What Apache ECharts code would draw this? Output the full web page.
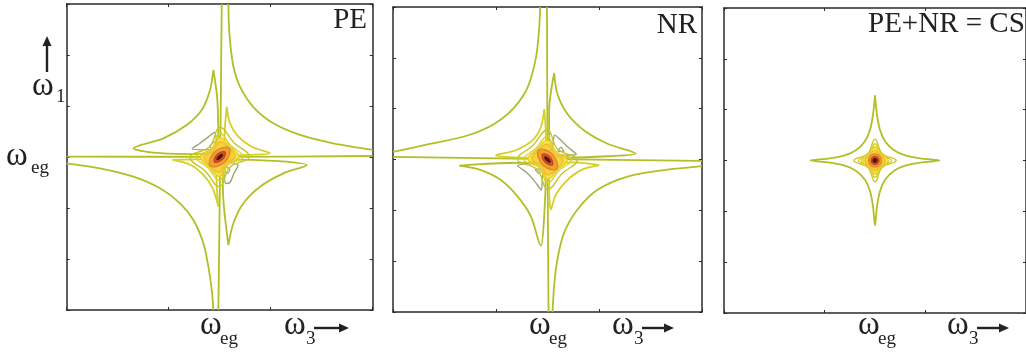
<!DOCTYPE html>
<html>
<head>
<meta charset="utf-8">
<script src="https://cdn.jsdelivr.net/npm/echarts@6/dist/echarts.min.js"></script>
<style>
  html, body { margin: 0; padding: 0; background: #fff; }
  #chart { width: 1026px; height: 354px; }
</style>
</head>
<body>
<div id="chart"></div>
<script>
// axis ranges (arbitrary frequency units, w_eg at 150)
const axisMax = 300;
const xTickStep = 100;
const yTickStep = 50;

// ---- PE panel contours ----
const pe_hLine = [[0, 150.3], [150, 150.2], [300, 151]];
const pe_vLine = [[152, 300], [150.5, 150], [148.7, 0]];
const pe_hypTR = [[158.5, 300], [159.5, 271], [163.4, 239], [169.9, 219], [183, 199], [202.6, 183], [228.8, 171.6], [261.4, 163.4], [300, 157]];
const pe_hypBL = [[0, 143.8], [32.7, 138.9], [65.4, 130.7], [91.5, 119.3], [111.1, 104.6], [124.2, 88.2], [134, 65.4], [138.9, 42.5], [142.2, 19.6], [143.8, 0]];
const pe_lobeTL = [[143.8, 235.3], [140.5, 215.7], [132.4, 196.1], [117.6, 181.4], [94.8, 168.3], [65.4, 158.5], [85, 154.2], [117.6, 152.9], [143.8, 152.9], [148.7, 160.1], [147.7, 205.9], [143.8, 235.3]];
const pe_lobeBR = [[158.5, 63.7], [163.4, 85], [173.2, 104.6], [189.5, 120.9], [212.4, 134], [235.3, 142.2], [215.7, 145.4], [183, 147.1], [156.9, 147.7], [152.9, 143.8], [153.6, 107.8], [158.5, 63.7]];
const pe_innerTR = [[156.9, 199.3], [160.1, 183], [168.3, 169.9], [181.4, 160.1], [199.3, 153.6], [176.5, 152], [156.9, 151], [154.2, 153.6], [155.2, 179.7], [156.9, 199.3]];
const pe_innerBL = [[103.6, 147.1], [121.6, 142.2], [134, 132.4], [143.1, 119.3], [148.7, 101.3], [147.1, 120.9], [146.4, 143.8], [145.4, 148.4], [124.2, 147.7], [103.6, 147.1]];
const pe_grayTL = [[148, 157], [147, 166], [145, 174], [138, 169], [130, 163], [123, 158], [135, 157], [148, 157]];
const pe_grayTLin = [[140, 160], [145, 165], [147, 160], [143, 158], [140, 160]];
const pe_grayBR = [[153, 146], [160, 145], [168, 142], [164, 134], [160, 125], [156, 124], [154, 135], [153, 146]];
const pe_grayBRin = [[156, 140], [160, 138], [158, 134], [155, 136], [156, 140]];
const pe_rings = [
  [[150, 179], [164, 164], [179, 150], [160, 140], [150, 121], [136, 136], [121, 150], [140, 160]],
  [[150, 173], [161, 161], [173, 150], [158, 142], [150, 127], [139, 139], [127, 150], [142, 158]],
  [[150, 169], [160, 160], [169, 150], [157, 143], [150, 131], [140, 140], [131, 150], [143, 157]],
  [[150, 165], [159, 159], [165, 150], [156, 144], [150, 135], [141, 141], [135, 150], [144, 156]],
  [[159, 159], [156, 146], [141, 141], [144, 154]],
  [[155, 155], [153, 148], [145, 145], [147, 152]],
  [[152.5, 152.5], [151, 149.5], [147.5, 147.5], [149, 150.5]]
];

// ---- NR panel contours ----
const nr_hLine = [[0, 152.6], [150, 150.5], [300, 148.7]];
const nr_vLine = [[149.5, 300], [150, 150], [151, 0]];
const nr_hypTL = [[142.9, 300], [141.9, 278.8], [138.7, 249.7], [130.6, 220.6], [117.6, 201.1], [98.2, 185], [72.3, 173.6], [36.7, 165.5], [0, 157.5]];
const nr_hypBR = [[300, 143.5], [263.3, 139.6], [227.7, 133.2], [198.5, 120.2], [179.1, 100.8], [166.2, 78.2], [159.7, 52.3], [156.5, 26.4], [154.9, 0]];
const nr_lobeTR = [[156.5, 235.1], [159.7, 214.1], [169.4, 194.7], [185.6, 178.5], [208.3, 165.5], [235.8, 155.8], [208.3, 153.2], [169.4, 151.9], [151.6, 152.6], [151.6, 197.9], [156.5, 235.1]];
const nr_lobeBL = [[64.2, 143.9], [85.3, 139.6], [104.7, 129.9], [120.9, 113.8], [133.8, 94.3], [143.5, 65.2], [146.8, 94.3], [148.4, 142.9], [124.1, 146.8], [85.3, 145.5], [64.2, 143.9]];
const nr_innerTL = [[146.8, 199.5], [143.5, 181.7], [135.4, 168.8], [119.3, 159.1], [99.8, 154.2], [124.1, 151.9], [147.4, 151.9], [148.4, 175.2], [146.8, 199.5]];
const nr_innerBR = [[200.2, 144.5], [182.4, 139.6], [167.8, 128.3], [158.1, 115.4], [153.2, 100.8], [151.6, 123.5], [151.6, 146.1], [175.9, 147.1], [200.2, 144.5]];
const nr_grayTR = [[153, 153], [165, 154], [178, 155], [170, 162], [162, 170], [157, 174], [155, 163], [153, 153]];
const nr_grayTRin = [[160, 158], [166, 158], [163, 162], [160, 158]];
const nr_grayBL = [[147, 147], [135, 146], [121, 144], [130, 137], [138, 128], [144, 120], [145, 133], [147, 147]];
const nr_grayBLin = [[138, 140], [143, 141], [142, 136], [138, 140]];
const nr_rings = [
  [[150, 179], [160, 160], [179, 150], [164, 136], [150, 121], [140, 140], [121, 150], [136, 164]],
  [[150, 173], [158, 158], [173, 150], [161, 139], [150, 127], [142, 142], [127, 150], [139, 161]],
  [[150, 169], [157, 157], [169, 150], [160, 140], [150, 131], [143, 143], [131, 150], [140, 160]],
  [[150, 165], [156, 156], [165, 150], [159, 141], [150, 135], [144, 144], [135, 150], [141, 159]],
  [[141, 159], [154, 156], [159, 141], [146, 144]],
  [[145, 155], [152, 153], [155, 145], [148, 147]],
  [[147.5, 152.5], [150.5, 151], [152.5, 147.5], [149.5, 149]]
];

// ---- CS panel contours ----
const cs_star = [[150, 214], [152, 195], [155, 180], [160, 169], [169, 160], [180, 155], [195, 152], [214, 150],
  [195, 148], [180, 145], [169, 140], [160, 131], [155, 120], [152, 105], [150, 86],
  [148, 105], [145, 120], [140, 131], [131, 140], [120, 145], [105, 148], [86, 150],
  [105, 152], [120, 155], [131, 160], [140, 169], [145, 180], [148, 195], [150, 214]];
const cs_rings = [
  [[150, 171], [157, 157], [171, 150], [157, 143], [150, 129], [143, 143], [129, 150], [143, 157]],
  [[150, 166.5], [156, 156], [166.5, 150], [156, 144], [150, 133.5], [144, 144], [133.5, 150], [144, 156]],
  [[150, 163.5], [156.5, 156.5], [163.5, 150], [156.5, 143.5], [150, 136.5], [143.5, 143.5], [136.5, 150], [143.5, 156.5]],
  [[150, 160], [155.5, 155.5], [160, 150], [155.5, 144.5], [150, 140], [144.5, 144.5], [140, 150], [144.5, 155.5]],
  [[150, 156.5], [154.5, 154.5], [156.5, 150], [154.5, 145.5], [150, 143.5], [145.5, 145.5], [143.5, 150], [145.5, 154.5]],
  [[150, 154], [152.8, 152.8], [154, 150], [152.8, 147.2], [150, 146], [147.2, 147.2], [146, 150], [147.2, 152.8]],
  [[150, 151.8], [151.3, 151.3], [151.8, 150], [151.3, 148.7], [150, 148.2], [148.7, 148.7], [148.2, 150], [148.7, 151.3]]
];

// styles
const cOuter = '#b2bf26';
const cInner = '#d6cf26';
const cGray = '#9aa673';
const ringStroke = ['#c9c629', '#ddd128', '#e6cc2a', '#eebd30', '#e4862a', '#c2461e', '#4a1410'];
const ringFill = ['none', 'none', '#f5e44a', '#f7d23c', '#f0a030', '#d05524', '#5a1a12'];
const serif = '"Liberation Serif", "DejaVu Serif", serif';
const ink = '#222';

const grids = [
  { left: 66.7, top: 4, width: 306, height: 306 },
  { left: 393, top: 7, width: 309, height: 305 },
  { left: 724, top: 8, width: 308, height: 305 }
];

function axis(g, pos, step) {
  return {
    type: 'value', gridIndex: g, position: pos, min: 0, max: axisMax, interval: step,
    axisLine: { show: true, onZero: false, lineStyle: { color: '#2b2b2b', width: 1.5 } },
    axisTick: { show: true, inside: true, length: 3, lineStyle: { color: '#2b2b2b', width: 1 } },
    axisLabel: { show: false }, splitLine: { show: false }
  };
}

const xAxes = [], yAxes = [];
grids.forEach((g, i) => {
  xAxes.push(axis(i, 'bottom', xTickStep), axis(i, 'top', xTickStep));
  yAxes.push(axis(i, 'left', yTickStep), axis(i, 'right', yTickStep));
});

function line(g, pts, color, width) {
  return {
    type: 'line', xAxisIndex: 2 * g, yAxisIndex: 2 * g, data: pts,
    symbol: 'none', smooth: 0.3, silent: true, animation: false, z: 2,
    lineStyle: { color: color, width: width || 1.8 }
  };
}

function rings(g, list) {
  return {
    type: 'custom', xAxisIndex: 2 * g, yAxisIndex: 2 * g, silent: true, animation: false, z: 3,
    data: list.map((r, i) => [i, i]),
    renderItem: function (params, api) {
      const k = params.dataIndex;
      const pts = list[k].map(p => api.coord(p));
      return {
        type: 'polygon',
        shape: { points: pts, smooth: 0.45 },
        style: { fill: ringFill[k], stroke: ringStroke[k], lineWidth: 1.4 }
      };
    }
  };
}

const series = [
  line(0, pe_hLine, cOuter), line(0, pe_vLine, cOuter),
  line(0, pe_hypTR, cOuter), line(0, pe_hypBL, cOuter),
  line(0, pe_lobeTL, cOuter), line(0, pe_lobeBR, cOuter),
  line(0, pe_innerTR, cInner), line(0, pe_innerBL, cInner),
  line(0, pe_grayTL, cGray, 1.4), line(0, pe_grayTLin, cGray, 1.2),
  line(0, pe_grayBR, cGray, 1.4), line(0, pe_grayBRin, cGray, 1.2),
  rings(0, pe_rings),

  line(1, nr_hLine, cOuter), line(1, nr_vLine, cOuter),
  line(1, nr_hypTL, cOuter), line(1, nr_hypBR, cOuter),
  line(1, nr_lobeTR, cOuter), line(1, nr_lobeBL, cOuter),
  line(1, nr_innerTL, cInner), line(1, nr_innerBR, cInner),
  line(1, nr_grayTR, cGray, 1.4), line(1, nr_grayTRin, cGray, 1.2),
  line(1, nr_grayBL, cGray, 1.4), line(1, nr_grayBLin, cGray, 1.2),
  rings(1, nr_rings),

  line(2, cs_star, cOuter),
  rings(2, cs_rings)
];

function txt(x, y, s, size, align) {
  return {
    type: 'text', x: x, y: y, z: 10,
    style: { text: s, font: size + 'px ' + serif, fill: ink, textAlign: align || 'left', textVerticalAlign: 'middle' }
  };
}
function hArrow(x1, x2, y) {
  return [
    { type: 'line', z: 10, shape: { x1: x1, y1: y, x2: x2 - 6, y2: y }, style: { stroke: ink, lineWidth: 2.4 } },
    { type: 'polygon', z: 10, shape: { points: [[x2 - 10, y - 4.5], [x2 - 10, y + 4.5], [x2, y]] }, style: { fill: ink } }
  ];
}
function vArrow(x, y1, y2) {
  return [
    { type: 'line', z: 10, shape: { x1: x, y1: y1, x2: x, y2: y2 + 6 }, style: { stroke: ink, lineWidth: 2.4 } },
    { type: 'polygon', z: 10, shape: { points: [[x - 4.5, y2 + 10], [x + 4.5, y2 + 10], [x, y2]] }, style: { fill: ink } }
  ];
}

const graphic = [
  txt(367, 20, 'PE', 29, 'right'),
  txt(697, 25, 'NR', 29, 'right'),
  txt(868, 24, 'PE+NR = CS', 29, 'left'),
  // left labels
  txt(32, 86, 'ω', 33), txt(56, 97, '1', 19),
  ...vArrow(47, 72, 36),
  txt(6, 156, 'ω', 33), txt(31, 168, 'eg', 19),
  // bottom labels
  txt(200, 325, 'ω', 33), txt(220, 339, 'eg', 19),
  txt(284, 325, 'ω', 33), txt(306, 339, '3', 19),
  ...hArrow(314, 349, 328),
  txt(529, 325, 'ω', 33), txt(549, 339, 'eg', 19),
  txt(612, 325, 'ω', 33), txt(634, 339, '3', 19),
  ...hArrow(642, 674, 328),
  txt(858, 325, 'ω', 33), txt(878, 339, 'eg', 19),
  txt(947, 325, 'ω', 33), txt(969, 339, '3', 19),
  ...hArrow(977, 1009, 328)
];

const chart = echarts.init(document.getElementById('chart'), null, { renderer: 'canvas' });
chart.setOption({
  animation: false,
  backgroundColor: '#fff',
  grid: grids,
  xAxis: xAxes,
  yAxis: yAxes,
  series: series,
  graphic: graphic
});
</script>
</body>
</html>
